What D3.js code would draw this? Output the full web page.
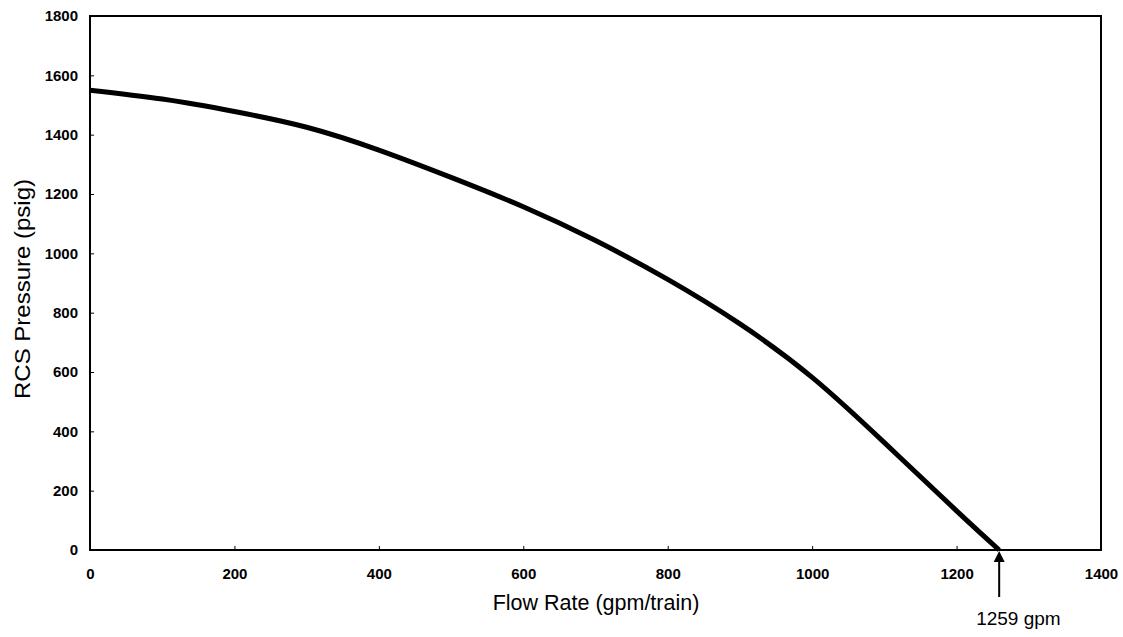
<!DOCTYPE html>
<html>
<head>
<meta charset="utf-8">
<script src="https://cdn.jsdelivr.net/npm/d3@7"></script>
<style>
  body { margin: 0; background: #fff; }
  text { font-family: "Liberation Sans", Arial, sans-serif; fill: #000; }
</style>
</head>
<body>
<svg id="chart" width="1123" height="637"></svg>
<script>
// pump curve
var flowRate = [0, 100, 200, 300, 400, 500, 600, 700, 800, 900, 1000, 1100, 1200, 1259];
var pressure = [1550, 1520, 1478, 1425, 1348, 1256, 1157, 1043, 912, 762, 582, 362, 132, 0];
var xTicks = [0, 200, 400, 600, 800, 1000, 1200, 1400];
var yTicks = [0, 200, 400, 600, 800, 1000, 1200, 1400, 1600, 1800];
var runout = 1259;

var svg = d3.select("#chart");
var plotLeft = 90, plotRight = 1101, plotTop = 16, plotBottom = 550;

var x = d3.scaleLinear().domain([0, 1400]).range([plotLeft, plotRight]);
var y = d3.scaleLinear().domain([0, 1800]).range([plotBottom, plotTop]);

// inward ticks
var xAxis = d3.axisBottom(x).tickValues(xTicks).tickSize(-4).tickPadding(18).tickFormat(d3.format("d"));
var yAxis = d3.axisLeft(y).tickValues(yTicks).tickSize(-4).tickPadding(12).tickFormat(d3.format("d"));

svg.append("g")
  .attr("transform", "translate(0," + plotBottom + ")")
  .call(xAxis)
  .call(g => g.select(".domain").remove())
  .call(g => g.selectAll("line").attr("stroke", "#000"))
  .call(g => g.selectAll("text").attr("font-family", null).attr("font-size", null)
    .style("font-size", "15px").style("font-weight", "bold"));

svg.append("g")
  .attr("transform", "translate(" + plotLeft + ",0)")
  .call(yAxis)
  .call(g => g.select(".domain").remove())
  .call(g => g.selectAll("line").attr("stroke", "#000"))
  .call(g => g.selectAll("text").attr("font-family", null).attr("font-size", null)
    .style("font-size", "15px").style("font-weight", "bold"));

// frame
svg.append("rect")
  .attr("x", plotLeft)
  .attr("y", plotTop)
  .attr("width", plotRight - plotLeft)
  .attr("height", plotBottom - plotTop)
  .attr("fill", "none")
  .attr("stroke", "#000")
  .attr("stroke-width", 2);

var line = d3.line()
  .x((d, i) => x(flowRate[i]))
  .y(d => y(d))
  .curve(d3.curveNatural);

svg.append("path")
  .datum(pressure)
  .attr("d", line)
  .attr("fill", "none")
  .attr("stroke", "#000")
  .attr("stroke-width", 5);

// axis titles
svg.append("text")
  .attr("x", 596)
  .attr("y", 610)
  .attr("text-anchor", "middle")
  .style("font-size", "21.5px")
  .text("Flow Rate (gpm/train)");

svg.append("text")
  .attr("transform", "translate(30,289)rotate(-90)")
  .attr("text-anchor", "middle")
  .attr("textLength", 220)
  .attr("lengthAdjust", "spacingAndGlyphs")
  .style("font-size", "21.5px")
  .text("RCS Pressure (psig)");

// runout arrow
svg.append("line")
  .attr("x1", x(runout))
  .attr("x2", x(runout))
  .attr("y1", 597)
  .attr("y2", plotBottom + 10)
  .attr("stroke", "#000")
  .attr("stroke-width", 2);

svg.append("path")
  .attr("d", d3.line()([[x(runout), plotBottom + 1], [x(runout) - 5.5, plotBottom + 12], [x(runout) + 5.5, plotBottom + 12]]))
  .attr("fill", "#000");

svg.append("text")
  .attr("x", x(runout) - 23)
  .attr("y", 625)
  .style("font-size", "19px")
  .text(runout + " gpm");
</script>
</body>
</html>
